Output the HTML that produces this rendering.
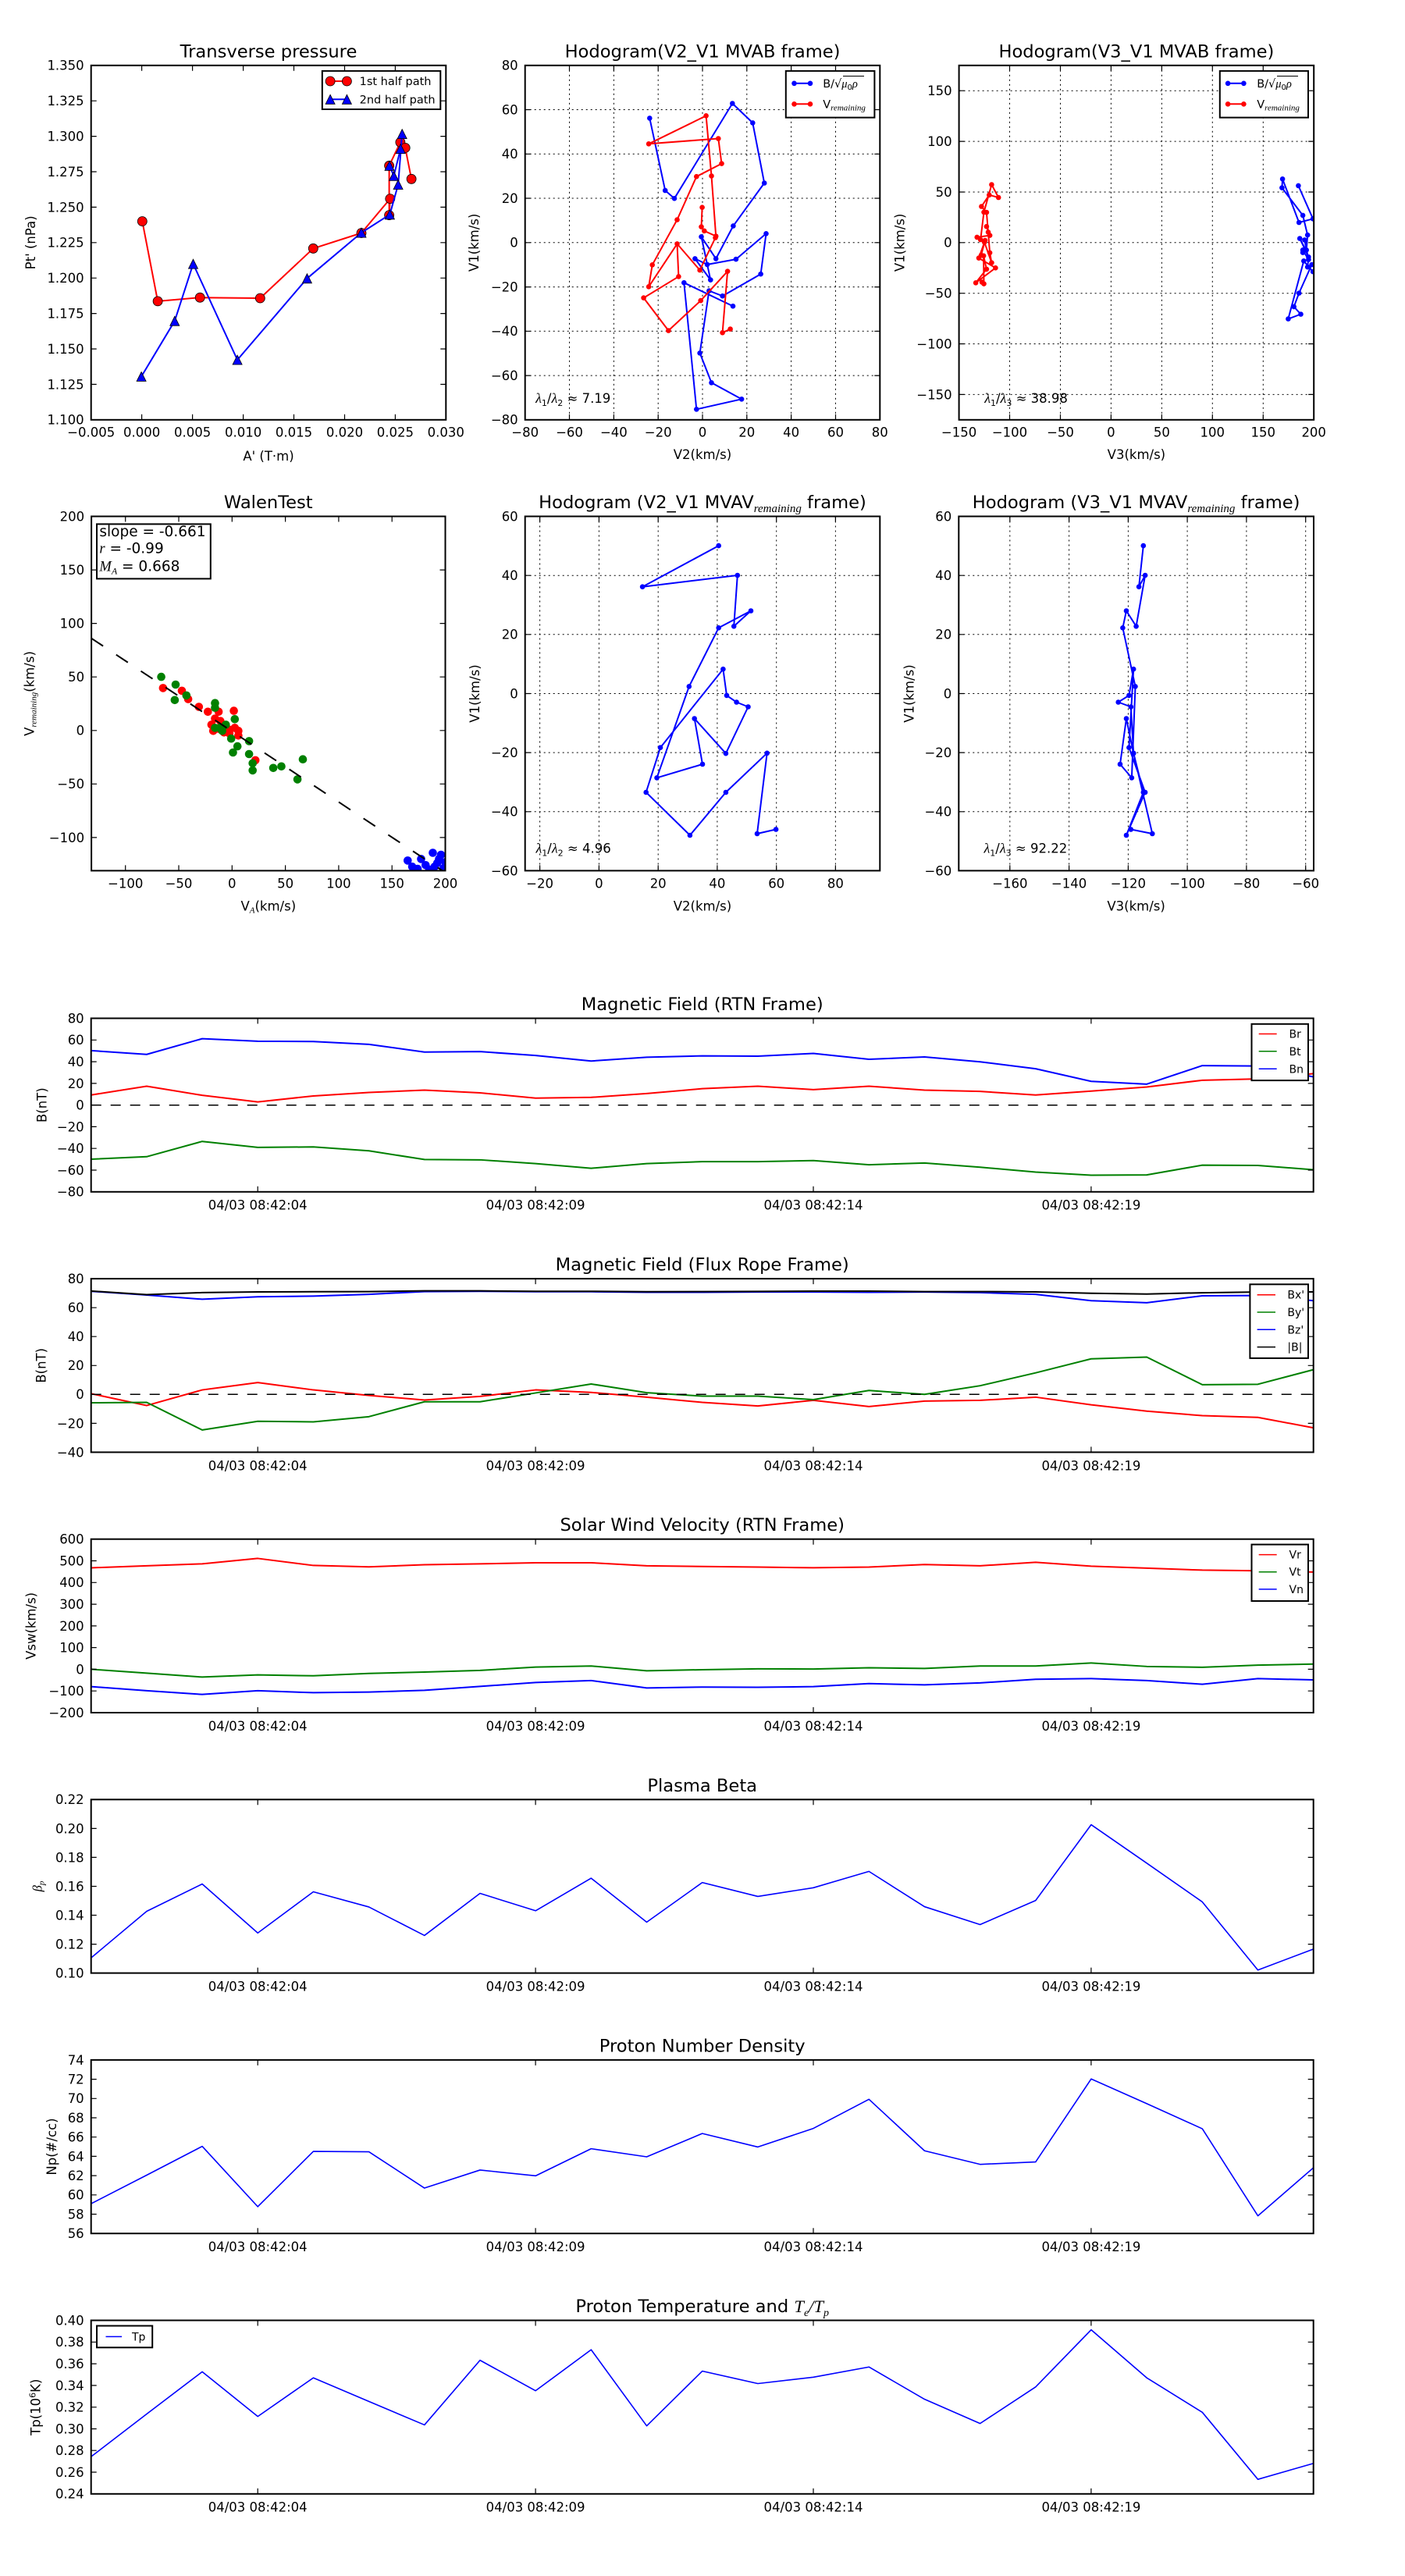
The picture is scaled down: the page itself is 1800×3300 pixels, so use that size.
<!DOCTYPE html>
<html><head><meta charset="utf-8"><style>
html,body{margin:0;padding:0;background:#fff}
svg{display:block}
text{font-family:"DejaVu Sans","Liberation Sans",sans-serif;fill:#000}
.tl{font-size:16.5px}
.e{text-anchor:end}
.m{text-anchor:middle}
.ti{font-size:22.6px;text-anchor:middle}
.lg{font-size:14.5px}
.ls{font-size:14px}
.an{font-size:18.5px}
.fr{fill:none;stroke:#000;stroke-width:2}
.tk{fill:none;stroke:#000;stroke-width:1.2}
.gd{fill:none;stroke:#000;stroke-width:1;stroke-dasharray:2,4}
.ln{fill:none;stroke-width:2;stroke-linejoin:round;vector-effect:non-scaling-stroke}
.l15{fill:none;stroke-width:1.6;stroke-linejoin:round;vector-effect:non-scaling-stroke}
.pl{fill:none;stroke-width:2;stroke-linejoin:round}
.mi{font-family:"Liberation Serif","DejaVu Serif",serif;font-style:italic}
</style></head><body>
<svg width="1800" height="3300" viewBox="0 0 1800 3300" xmlns="http://www.w3.org/2000/svg">
<rect width="1800" height="3300" fill="#fff"/>
<defs>
<clipPath id="cH1"><rect x="672.7" y="83.8" width="454.6" height="454"/></clipPath>
<clipPath id="cH2"><rect x="1228.6" y="83.8" width="454.6" height="454"/></clipPath>
<clipPath id="cW"><rect x="117.1" y="661.5" width="453.4" height="453.9"/></clipPath>
<clipPath id="cTS"><rect x="116.7" y="0" width="1566" height="3300"/></clipPath>
</defs>

<!-- ================= Transverse pressure ================= -->
<text class="ti" x="344" y="73.3">Transverse pressure</text>
<polyline class="pl" stroke="#f00" points="182.3,283.5 202.1,385.9 256.2,381.2 333.3,382 401.3,318.3 463,298.5 499.8,254.6 498.6,275.6 498.6,212.3 512.9,182.3 519.2,189.4 527.1,229.3"/>
<g fill="#f00" stroke="#000" stroke-width="0.8">
<circle cx="182.3" cy="283.5" r="6"/><circle cx="202.1" cy="385.9" r="6"/><circle cx="256.2" cy="381.2" r="6"/><circle cx="333.3" cy="382" r="6"/><circle cx="401.3" cy="318.3" r="6"/><circle cx="463" cy="298.5" r="6"/><circle cx="498.6" cy="275.6" r="6"/><circle cx="499.8" cy="254.6" r="6"/><circle cx="498.6" cy="212.3" r="6"/><circle cx="512.9" cy="182.3" r="6"/><circle cx="519.2" cy="189.4" r="6"/><circle cx="527.1" cy="229.3" r="6"/>
</g>
<polyline class="pl" stroke="#00f" points="181.1,482.4 223.8,411.2 247.5,338.1 304.1,461 393.4,356.7 463,298.1 499.4,274.8 510.1,236.5 515.2,171.6 513.2,190.6 504.5,225.4 499,212.3"/>
<g fill="#00f" stroke="#000" stroke-width="0.8">
<polygon points="181.1,476.4 175.1,488.4 187.1,488.4"/><polygon points="223.8,405.2 217.8,417.2 229.8,417.2"/><polygon points="247.5,332.1 241.5,344.1 253.5,344.1"/><polygon points="304.1,455 298.1,467 310.1,467"/><polygon points="393.4,350.7 387.4,362.7 399.4,362.7"/><polygon points="463,292.1 457,304.1 469,304.1"/><polygon points="499.4,268.8 493.4,280.8 505.4,280.8"/><polygon points="510.1,230.5 504.1,242.5 516.1,242.5"/><polygon points="504.5,219.4 498.5,231.4 510.5,231.4"/><polygon points="499,206.3 493,218.3 505,218.3"/><polygon points="513.2,184.6 507.2,196.6 519.2,196.6"/><polygon points="515.2,165.6 509.2,177.6 521.2,177.6"/>
</g>
<rect class="fr" x="116.7" y="83.8" width="454.6" height="454"/>
<path class="tk" d="M181.6 537.8v-7M246.6 537.8v-7M311.6 537.8v-7M376.5 537.8v-7M441.5 537.8v-7M506.4 537.8v-7M181.6 83.8v7M246.6 83.8v7M311.6 83.8v7M376.5 83.8v7M441.5 83.8v7M506.4 83.8v7M116.7 492.4h7M116.7 447h7M116.7 401.6h7M116.7 356.2h7M116.7 310.8h7M116.7 265.4h7M116.7 220h7M116.7 174.6h7M116.7 129.2h7M571.3 492.4h-7M571.3 447h-7M571.3 401.6h-7M571.3 356.2h-7M571.3 310.8h-7M571.3 265.4h-7M571.3 220h-7M571.3 174.6h-7M571.3 129.2h-7"/>
<g class="tl m">
<text x="116.7" y="559.7">&#8722;0.005</text><text x="181.6" y="559.7">0.000</text><text x="246.6" y="559.7">0.005</text><text x="311.6" y="559.7">0.010</text><text x="376.5" y="559.7">0.015</text><text x="441.5" y="559.7">0.020</text><text x="506.4" y="559.7">0.025</text><text x="571.3" y="559.7">0.030</text>
</g>
<g class="tl e">
<text x="107.7" y="543.7">1.100</text><text x="107.7" y="498.3">1.125</text><text x="107.7" y="452.9">1.150</text><text x="107.7" y="407.5">1.175</text><text x="107.7" y="362.1">1.200</text><text x="107.7" y="316.7">1.225</text><text x="107.7" y="271.3">1.250</text><text x="107.7" y="225.9">1.275</text><text x="107.7" y="180.5">1.300</text><text x="107.7" y="135.1">1.325</text><text x="107.7" y="89.7">1.350</text>
</g>
<text class="tl m" x="344" y="590">A' (T·m)</text>
<text class="tl m" transform="translate(45,310.8) rotate(-90)">Pt' (nPa)</text>
<rect x="412.8" y="90.9" width="151.5" height="49.1" fill="#fff" stroke="#000" stroke-width="2"/>
<line x1="423.1" y1="104" x2="444.4" y2="104" stroke="#f00" stroke-width="2"/>
<circle cx="423.1" cy="104" r="6" fill="#f00" stroke="#000" stroke-width="0.8"/><circle cx="444.4" cy="104" r="6" fill="#f00" stroke="#000" stroke-width="0.8"/>
<text class="lg" x="460.6" y="109.2">1st half path</text>
<line x1="423.1" y1="127.3" x2="444.4" y2="127.3" stroke="#00f" stroke-width="2"/>
<polygon points="423.1,121.3 417.1,133.3 429.1,133.3" fill="#00f" stroke="#000" stroke-width="0.8"/><polygon points="444.4,121.3 438.4,133.3 450.4,133.3" fill="#00f" stroke="#000" stroke-width="0.8"/>
<text class="lg" x="460.6" y="132.5">2nd half path</text>

<!-- ================= Hodogram V2_V1 MVAB ================= -->
<text class="ti" x="900" y="73.3">Hodogram(V2_V1 MVAB frame)</text>
<path class="gd" d="M729.5 83.8V537.8M786.4 83.8V537.8M843.2 83.8V537.8M900 83.8V537.8M956.8 83.8V537.8M1013.6 83.8V537.8M1070.5 83.8V537.8M672.7 481.1H1127.3M672.7 424.3H1127.3M672.7 367.6H1127.3M672.7 310.8H1127.3M672.7 254H1127.3M672.7 197.3H1127.3M672.7 140.5H1127.3"/>
<g clip-path="url(#cH1)">
<polyline class="pl" stroke="#00f" points="832.3,151.4 852.2,244 864,254.2 938.3,132.5 964.3,157.4 979.2,234.5 939.4,289.4 917.2,331.4 898.5,303.3 910.3,358.6 890.4,331.4 906.1,338.9 942.9,332.1 981.5,299.3 974.6,351.1 925.6,379.2 908.4,372.5 896.6,452.3 911.5,490.3 950.1,511.3 892.3,524.3 876.3,362.2 939,392.2"/>
<g fill="#00f">
<circle cx="832.3" cy="151.4" r="3.3"/><circle cx="852.2" cy="244" r="3.3"/><circle cx="864" cy="254.2" r="3.3"/><circle cx="938.3" cy="132.5" r="3.3"/><circle cx="964.3" cy="157.4" r="3.3"/><circle cx="979.2" cy="234.5" r="3.3"/><circle cx="939.4" cy="289.4" r="3.3"/><circle cx="917.2" cy="331.4" r="3.3"/><circle cx="898.5" cy="303.3" r="3.3"/><circle cx="910.3" cy="358.6" r="3.3"/><circle cx="890.4" cy="331.4" r="3.3"/><circle cx="906.1" cy="338.9" r="3.3"/><circle cx="942.9" cy="332.1" r="3.3"/><circle cx="981.5" cy="299.3" r="3.3"/><circle cx="974.6" cy="351.1" r="3.3"/><circle cx="925.6" cy="379.2" r="3.3"/><circle cx="908.4" cy="372.5" r="3.3"/><circle cx="896.6" cy="452.3" r="3.3"/><circle cx="911.5" cy="490.3" r="3.3"/><circle cx="950.1" cy="511.3" r="3.3"/><circle cx="892.3" cy="524.3" r="3.3"/><circle cx="876.3" cy="362.2" r="3.3"/><circle cx="939" cy="392.2" r="3.3"/>
</g>
<polyline class="pl" stroke="#f00" points="899.6,265.7 898.5,290.6 902.3,295.8 917.2,302.5 911.5,225.4 904.6,148.3 831.1,184.3 920.3,177.5 924.5,209.6 892.3,226.2 867.5,281.5 835.7,339.3 831.1,367.3 867.5,312.4 869.4,354.3 824.6,381.6 856.4,423.5 897.7,385.1 932.1,347.6 925.6,426.2 935.6,421.5"/>
<polyline class="pl" stroke="#f00" points="867.5,312.4 896.6,346 916.5,304.5"/>
<g fill="#f00">
<circle cx="899.6" cy="265.7" r="3.3"/><circle cx="898.5" cy="290.6" r="3.3"/><circle cx="902.3" cy="295.8" r="3.3"/><circle cx="917.2" cy="302.5" r="3.3"/><circle cx="911.5" cy="225.4" r="3.3"/><circle cx="904.6" cy="148.3" r="3.3"/><circle cx="831.1" cy="184.3" r="3.3"/><circle cx="920.3" cy="177.5" r="3.3"/><circle cx="924.5" cy="209.6" r="3.3"/><circle cx="892.3" cy="226.2" r="3.3"/><circle cx="867.5" cy="281.5" r="3.3"/><circle cx="835.7" cy="339.3" r="3.3"/><circle cx="831.1" cy="367.3" r="3.3"/><circle cx="867.5" cy="312.4" r="3.3"/><circle cx="869.4" cy="354.3" r="3.3"/><circle cx="824.6" cy="381.6" r="3.3"/><circle cx="856.4" cy="423.5" r="3.3"/><circle cx="897.7" cy="385.1" r="3.3"/><circle cx="932.1" cy="347.6" r="3.3"/><circle cx="925.6" cy="426.2" r="3.3"/><circle cx="935.6" cy="421.5" r="3.3"/><circle cx="896.6" cy="346" r="3.3"/><circle cx="916.5" cy="304.5" r="3.3"/>
</g>
</g>
<rect class="fr" x="672.7" y="83.8" width="454.6" height="454"/>
<path class="tk" d="M729.5 537.8v-7M786.4 537.8v-7M843.2 537.8v-7M900 537.8v-7M956.8 537.8v-7M1013.6 537.8v-7M1070.5 537.8v-7M729.5 83.8v7M786.4 83.8v7M843.2 83.8v7M900 83.8v7M956.8 83.8v7M1013.6 83.8v7M1070.5 83.8v7M672.7 481.1h7M672.7 424.3h7M672.7 367.6h7M672.7 310.8h7M672.7 254h7M672.7 197.3h7M672.7 140.5h7M1127.3 481.1h-7M1127.3 424.3h-7M1127.3 367.6h-7M1127.3 310.8h-7M1127.3 254h-7M1127.3 197.3h-7M1127.3 140.5h-7"/>
<g class="tl m">
<text x="672.7" y="559.7">&#8722;80</text><text x="729.5" y="559.7">&#8722;60</text><text x="786.4" y="559.7">&#8722;40</text><text x="843.2" y="559.7">&#8722;20</text><text x="900" y="559.7">0</text><text x="956.8" y="559.7">20</text><text x="1013.6" y="559.7">40</text><text x="1070.5" y="559.7">60</text><text x="1127.3" y="559.7">80</text>
</g>
<g class="tl e">
<text x="663.7" y="89.7">80</text><text x="663.7" y="146.4">60</text><text x="663.7" y="203.2">40</text><text x="663.7" y="259.9">20</text><text x="663.7" y="316.7">0</text><text x="663.7" y="373.5">&#8722;20</text><text x="663.7" y="430.2">&#8722;40</text><text x="663.7" y="487">&#8722;60</text><text x="663.7" y="543.7">&#8722;80</text>
</g>
<text class="tl m" x="900" y="588">V2(km/s)</text>
<text class="tl m" transform="translate(613.1,310.8) rotate(-90)">V1(km/s)</text>
<text class="tl" x="686.1" y="516"><tspan class="mi" font-size="18">λ</tspan><tspan font-size="11" dy="4">1</tspan><tspan dy="-4">/</tspan><tspan class="mi" font-size="18">λ</tspan><tspan font-size="11" dy="4">2</tspan><tspan dy="-4"> ≈ 7.19</tspan></text>
<rect x="1006.8" y="90.9" width="113.6" height="59.7" fill="#fff" stroke="#000" stroke-width="2"/>
<line x1="1015" y1="106.8" x2="1040" y2="106.8" stroke="#00f" stroke-width="2"/>
<circle cx="1017.5" cy="106.8" r="3.3" fill="#00f"/><circle cx="1038" cy="106.8" r="3.3" fill="#00f"/>
<text class="lg" x="1054.2" y="112">B/√<tspan class="mi">μ</tspan><tspan font-size="10" dy="3">0</tspan><tspan class="mi" dy="-3">ρ</tspan></text>
<line x1="1080" y1="97.5" x2="1107" y2="97.5" stroke="#000" stroke-width="1"/>
<line x1="1015" y1="133.3" x2="1040" y2="133.3" stroke="#f00" stroke-width="2"/>
<circle cx="1017.5" cy="133.3" r="3.3" fill="#f00"/><circle cx="1038" cy="133.3" r="3.3" fill="#f00"/>
<text class="lg" x="1054.2" y="138.5">V<tspan class="mi" font-size="11" dy="3">remaining</tspan></text>

<!-- ================= Hodogram V3_V1 MVAB ================= -->
<text class="ti" x="1455.9" y="73.3">Hodogram(V3_V1 MVAB frame)</text>
<path class="gd" d="M1293.5 83.8V537.8M1358.5 83.8V537.8M1423.4 83.8V537.8M1488.4 83.8V537.8M1553.3 83.8V537.8M1618.3 83.8V537.8M1228.6 116.2H1683.2M1228.6 181.1H1683.2M1228.6 246H1683.2M1228.6 310.8H1683.2M1228.6 375.7H1683.2M1228.6 440.5H1683.2M1228.6 505.4H1683.2"/>
<g clip-path="url(#cH2)">
<polyline class="pl" stroke="#00f" points="1663.4,237.9 1682.1,280.3 1664.2,285 1643.1,229.3 1642.4,240.6 1669.1,275.9 1675.2,301.1 1673.7,320.3 1671.4,307.4 1676.4,332.6 1669.1,320.3 1669.1,323.6 1673,320.5 1665.2,305.5 1676.4,329.2 1675.2,342.1 1680.6,339 1664.2,375.5 1657.7,392.9 1666.5,402.5 1650.4,408.5 1670.3,334.3 1682.1,348"/>
<g fill="#00f">
<circle cx="1663.4" cy="237.9" r="3.3"/><circle cx="1682.1" cy="280.3" r="3.3"/><circle cx="1664.2" cy="285" r="3.3"/><circle cx="1643.1" cy="229.3" r="3.3"/><circle cx="1642.4" cy="240.6" r="3.3"/><circle cx="1669.1" cy="275.9" r="3.3"/><circle cx="1675.2" cy="301.1" r="3.3"/><circle cx="1673.7" cy="320.3" r="3.3"/><circle cx="1671.4" cy="307.4" r="3.3"/><circle cx="1676.4" cy="332.6" r="3.3"/><circle cx="1669.1" cy="320.3" r="3.3"/><circle cx="1669.1" cy="323.6" r="3.3"/><circle cx="1673" cy="320.5" r="3.3"/><circle cx="1665.2" cy="305.5" r="3.3"/><circle cx="1676.4" cy="329.2" r="3.3"/><circle cx="1675.2" cy="342.1" r="3.3"/><circle cx="1680.6" cy="339" r="3.3"/><circle cx="1664.2" cy="375.5" r="3.3"/><circle cx="1657.7" cy="392.9" r="3.3"/><circle cx="1666.5" cy="402.5" r="3.3"/><circle cx="1650.4" cy="408.5" r="3.3"/><circle cx="1670.3" cy="334.3" r="3.3"/><circle cx="1682.1" cy="348" r="3.3"/>
</g>
<polyline class="pl" stroke="#f00" points="1263.9,290.2 1268.1,301.6 1251.7,303.9 1256.2,307 1260.5,271.8 1270.4,236.5 1279.2,253 1267.3,249.8 1257.4,264.5 1263.9,272.1 1266,297.4 1268.1,323.8 1270.4,336.6 1261.2,310.3 1254,330.6 1275.4,343.2 1250.1,362.3 1263.9,344.8 1260.1,327.7 1260.5,363.6 1258,361.4"/>
<polyline class="pl" stroke="#f00" points="1261.2,310.3 1257,326.9 1262,308"/>
<g fill="#f00">
<circle cx="1263.9" cy="290.2" r="3.3"/><circle cx="1268.1" cy="301.6" r="3.3"/><circle cx="1251.7" cy="303.9" r="3.3"/><circle cx="1256.2" cy="307" r="3.3"/><circle cx="1260.5" cy="271.8" r="3.3"/><circle cx="1270.4" cy="236.5" r="3.3"/><circle cx="1279.2" cy="253" r="3.3"/><circle cx="1267.3" cy="249.8" r="3.3"/><circle cx="1257.4" cy="264.5" r="3.3"/><circle cx="1263.9" cy="272.1" r="3.3"/><circle cx="1266" cy="297.4" r="3.3"/><circle cx="1268.1" cy="323.8" r="3.3"/><circle cx="1270.4" cy="336.6" r="3.3"/><circle cx="1261.2" cy="310.3" r="3.3"/><circle cx="1254" cy="330.6" r="3.3"/><circle cx="1275.4" cy="343.2" r="3.3"/><circle cx="1250.1" cy="362.3" r="3.3"/><circle cx="1263.9" cy="344.8" r="3.3"/><circle cx="1260.1" cy="327.7" r="3.3"/><circle cx="1260.5" cy="363.6" r="3.3"/><circle cx="1258" cy="361.4" r="3.3"/><circle cx="1257" cy="326.9" r="3.3"/><circle cx="1262" cy="308" r="3.3"/>
</g>
</g>
<rect class="fr" x="1228.6" y="83.8" width="454.6" height="454"/>
<path class="tk" d="M1293.5 537.8v-7M1358.5 537.8v-7M1423.4 537.8v-7M1488.4 537.8v-7M1553.3 537.8v-7M1618.3 537.8v-7M1293.5 83.8v7M1358.5 83.8v7M1423.4 83.8v7M1488.4 83.8v7M1553.3 83.8v7M1618.3 83.8v7M1228.6 116.2h7M1228.6 181.1h7M1228.6 246h7M1228.6 310.8h7M1228.6 375.7h7M1228.6 440.5h7M1228.6 505.4h7M1683.2 116.2h-7M1683.2 181.1h-7M1683.2 246h-7M1683.2 310.8h-7M1683.2 375.7h-7M1683.2 440.5h-7M1683.2 505.4h-7"/>
<g class="tl m">
<text x="1228.6" y="559.7">&#8722;150</text><text x="1293.5" y="559.7">&#8722;100</text><text x="1358.5" y="559.7">&#8722;50</text><text x="1423.4" y="559.7">0</text><text x="1488.4" y="559.7">50</text><text x="1553.3" y="559.7">100</text><text x="1618.3" y="559.7">150</text><text x="1683.2" y="559.7">200</text>
</g>
<g class="tl e">
<text x="1219.6" y="122.1">150</text><text x="1219.6" y="187">100</text><text x="1219.6" y="251.9">50</text><text x="1219.6" y="316.7">0</text><text x="1219.6" y="381.6">&#8722;50</text><text x="1219.6" y="446.4">&#8722;100</text><text x="1219.6" y="511.3">&#8722;150</text>
</g>
<text class="tl m" x="1455.9" y="588">V3(km/s)</text>
<text class="tl m" transform="translate(1158.3,310.8) rotate(-90)">V1(km/s)</text>
<text class="tl" x="1261.2" y="516"><tspan class="mi" font-size="18">λ</tspan><tspan font-size="11" dy="4">1</tspan><tspan dy="-4">/</tspan><tspan class="mi" font-size="18">λ</tspan><tspan font-size="11" dy="4">3</tspan><tspan dy="-4"> ≈ 38.98</tspan></text>
<rect x="1562.8" y="90.9" width="113.2" height="59.7" fill="#fff" stroke="#000" stroke-width="2"/>
<line x1="1570.4" y1="106.8" x2="1596" y2="106.8" stroke="#00f" stroke-width="2"/>
<circle cx="1573.1" cy="106.8" r="3.3" fill="#00f"/><circle cx="1593.4" cy="106.8" r="3.3" fill="#00f"/>
<text class="lg" x="1610.2" y="112">B/√<tspan class="mi">μ</tspan><tspan font-size="10" dy="3">0</tspan><tspan class="mi" dy="-3">ρ</tspan></text>
<line x1="1636" y1="97.5" x2="1663" y2="97.5" stroke="#000" stroke-width="1"/>
<line x1="1570.4" y1="133.3" x2="1596" y2="133.3" stroke="#f00" stroke-width="2"/>
<circle cx="1573.1" cy="133.3" r="3.3" fill="#f00"/><circle cx="1593.4" cy="133.3" r="3.3" fill="#f00"/>
<text class="lg" x="1610.2" y="138.5">V<tspan class="mi" font-size="11" dy="3">remaining</tspan></text>

<!-- ================= Walen test ================= -->
<text class="ti" x="343.8" y="651">WalenTest</text>
<g clip-path="url(#cW)">
<g fill="#f00">
<circle cx="208.9" cy="881.4" r="5.3"/><circle cx="233" cy="884.9" r="5.3"/><circle cx="241.1" cy="895.6" r="5.3"/><circle cx="254.8" cy="905.5" r="5.3"/><circle cx="266.3" cy="911.8" r="5.3"/><circle cx="280.1" cy="911.8" r="5.3"/><circle cx="299.6" cy="910.6" r="5.3"/><circle cx="270.9" cy="928.4" r="5.3"/><circle cx="282.4" cy="923.7" r="5.3"/><circle cx="280.1" cy="933.6" r="5.3"/><circle cx="305.4" cy="936.3" r="5.3"/><circle cx="293.9" cy="939.5" r="5.3"/><circle cx="327.2" cy="973.9" r="5.3"/><circle cx="273.2" cy="936.3" r="5.3"/><circle cx="287" cy="938.3" r="5.3"/><circle cx="300.8" cy="932.4" r="5.3"/><circle cx="275.5" cy="920.5" r="5.3"/><circle cx="292.7" cy="934.4" r="5.3"/><circle cx="305.4" cy="942.3" r="5.3"/>
</g>
<g fill="#008000">
<circle cx="206.6" cy="867.1" r="5.3"/><circle cx="225" cy="877" r="5.3"/><circle cx="223.9" cy="896.8" r="5.3"/><circle cx="238.8" cy="890.9" r="5.3"/><circle cx="275.5" cy="900.7" r="5.3"/><circle cx="275.5" cy="906.7" r="5.3"/><circle cx="300.8" cy="921.3" r="5.3"/><circle cx="281.3" cy="932.4" r="5.3"/><circle cx="296.2" cy="946.2" r="5.3"/><circle cx="304.2" cy="956.1" r="5.3"/><circle cx="319.1" cy="949.4" r="5.3"/><circle cx="298.5" cy="964" r="5.3"/><circle cx="319.1" cy="966" r="5.3"/><circle cx="323.7" cy="977.8" r="5.3"/><circle cx="323.7" cy="986.9" r="5.3"/><circle cx="350.1" cy="983.8" r="5.3"/><circle cx="360.5" cy="981.8" r="5.3"/><circle cx="381.1" cy="998.4" r="5.3"/><circle cx="388" cy="972.7" r="5.3"/><circle cx="275.5" cy="932.4" r="5.3"/><circle cx="289.3" cy="928.4" r="5.3"/><circle cx="284.7" cy="936.3" r="5.3"/>
</g>
<g fill="#00f">
<circle cx="522.3" cy="1102.4" r="5.3"/><circle cx="539.5" cy="1100.4" r="5.3"/><circle cx="554.5" cy="1092.5" r="5.3"/><circle cx="562.5" cy="1100.4" r="5.3"/><circle cx="570.5" cy="1104.4" r="5.3"/><circle cx="556.8" cy="1110.3" r="5.3"/><circle cx="545.3" cy="1108.3" r="5.3"/><circle cx="568.2" cy="1112.3" r="5.3"/><circle cx="528.1" cy="1110.3" r="5.3"/><circle cx="560.2" cy="1105.6" r="5.3"/><circle cx="550" cy="1114" r="5.3"/><circle cx="535" cy="1113" r="5.3"/><circle cx="565" cy="1095" r="5.3"/>
</g>
<line x1="117.1" y1="817.7" x2="566.8" y2="1115.4" stroke="#000" stroke-width="2" stroke-dasharray="18,20"/>
</g>
<rect class="fr" x="117.1" y="661.5" width="453.4" height="453.9"/>
<path class="tk" d="M160.7 1115.4v-7M229 1115.4v-7M297.3 1115.4v-7M365.6 1115.4v-7M433.9 1115.4v-7M502.2 1115.4v-7M160.7 661.5v7M229 661.5v7M297.3 661.5v7M365.6 661.5v7M433.9 661.5v7M502.2 661.5v7M117.1 1072.9h7M117.1 1004.3h7M117.1 935.8h7M117.1 867.2h7M117.1 798.6h7M117.1 730.1h7M570.5 1072.9h-7M570.5 1004.3h-7M570.5 935.8h-7M570.5 867.2h-7M570.5 798.6h-7M570.5 730.1h-7"/>
<g class="tl m">
<text x="160.7" y="1137.3">&#8722;100</text><text x="229" y="1137.3">&#8722;50</text><text x="297.3" y="1137.3">0</text><text x="365.6" y="1137.3">50</text><text x="433.9" y="1137.3">100</text><text x="502.2" y="1137.3">150</text><text x="570.5" y="1137.3">200</text>
</g>
<g class="tl e">
<text x="108.1" y="667.4">200</text><text x="108.1" y="736">150</text><text x="108.1" y="804.5">100</text><text x="108.1" y="873.1">50</text><text x="108.1" y="941.7">0</text><text x="108.1" y="1010.2">&#8722;50</text><text x="108.1" y="1078.8">&#8722;100</text>
</g>
<text class="tl m" x="343.8" y="1166.5">V<tspan class="mi" font-size="11" dy="3">A</tspan><tspan dy="-3">(km/s)</tspan></text>
<text class="tl m" transform="translate(43.3,888.5) rotate(-90)">V<tspan class="mi" font-size="11" dy="3">remaining</tspan><tspan dy="-3">(km/s)</tspan></text>
<rect x="124" y="671.4" width="145.8" height="70" fill="#fff" stroke="#000" stroke-width="2"/>
<text class="an" x="127.4" y="687">slope = -0.661</text>
<text class="an" x="127.4" y="708.7"><tspan class="mi">r</tspan> = -0.99</text>
<text class="an" x="127.4" y="731.3"><tspan class="mi">M</tspan><tspan class="mi" font-size="12" dy="4">A</tspan><tspan dy="-4"> = 0.668</tspan></text>

<!-- ================= Hodogram V2_V1 MVAV ================= -->
<text class="ti" x="900" y="651">Hodogram (V2_V1 MVAV<tspan class="mi" font-size="15" dy="5">remaining</tspan><tspan dy="-5"> frame)</tspan></text>
<path class="gd" d="M691.6 661.5V1115.4M767.4 661.5V1115.4M843.2 661.5V1115.4M918.9 661.5V1115.4M994.7 661.5V1115.4M1070.4 661.5V1115.4M672.7 1039.8H1127.3M672.7 964.1H1127.3M672.7 888.5H1127.3M672.7 812.8H1127.3M672.7 737.2H1127.3"/>
<polyline class="pl" stroke="#00f" points="920.7,699.1 823.1,751.7 944.8,737 940.2,802.3 962,782.5 920.7,804.3 882.8,879.4 841.5,996.4 900,979 889.7,920.5 929.9,965.2 958.5,905.5 943.6,899.5 931,890.9 926.4,857.2 846,957.7 827.7,1015 883.9,1070 929.9,1015 982.7,964.8 970,1068 994.1,1062.5"/>
<g fill="#00f">
<circle cx="920.7" cy="699.1" r="3.3"/><circle cx="823.1" cy="751.7" r="3.3"/><circle cx="944.8" cy="737" r="3.3"/><circle cx="940.2" cy="802.3" r="3.3"/><circle cx="962" cy="782.5" r="3.3"/><circle cx="920.7" cy="804.3" r="3.3"/><circle cx="882.8" cy="879.4" r="3.3"/><circle cx="841.5" cy="996.4" r="3.3"/><circle cx="900" cy="979" r="3.3"/><circle cx="889.7" cy="920.5" r="3.3"/><circle cx="929.9" cy="965.2" r="3.3"/><circle cx="958.5" cy="905.5" r="3.3"/><circle cx="943.6" cy="899.5" r="3.3"/><circle cx="931" cy="890.9" r="3.3"/><circle cx="926.4" cy="857.2" r="3.3"/><circle cx="846" cy="957.7" r="3.3"/><circle cx="827.7" cy="1015" r="3.3"/><circle cx="883.9" cy="1070" r="3.3"/><circle cx="929.9" cy="1015" r="3.3"/><circle cx="982.7" cy="964.8" r="3.3"/><circle cx="970" cy="1068" r="3.3"/><circle cx="994.1" cy="1062.5" r="3.3"/>
</g>
<rect class="fr" x="672.7" y="661.5" width="454.6" height="453.9"/>
<path class="tk" d="M691.6 1115.4v-7M767.4 1115.4v-7M843.2 1115.4v-7M918.9 1115.4v-7M994.7 1115.4v-7M1070.4 1115.4v-7M691.6 661.5v7M767.4 661.5v7M843.2 661.5v7M918.9 661.5v7M994.7 661.5v7M1070.4 661.5v7M672.7 1039.8h7M672.7 964.1h7M672.7 888.5h7M672.7 812.8h7M672.7 737.2h7M1127.3 1039.8h-7M1127.3 964.1h-7M1127.3 888.5h-7M1127.3 812.8h-7M1127.3 737.2h-7"/>
<g class="tl m">
<text x="691.6" y="1137.3">&#8722;20</text><text x="767.4" y="1137.3">0</text><text x="843.2" y="1137.3">20</text><text x="918.9" y="1137.3">40</text><text x="994.7" y="1137.3">60</text><text x="1070.4" y="1137.3">80</text>
</g>
<g class="tl e">
<text x="663.7" y="667.4">60</text><text x="663.7" y="743.1">40</text><text x="663.7" y="818.7">20</text><text x="663.7" y="894.4">0</text><text x="663.7" y="970">&#8722;20</text><text x="663.7" y="1045.7">&#8722;40</text><text x="663.7" y="1121.3">&#8722;60</text>
</g>
<text class="tl m" x="900" y="1166.5">V2(km/s)</text>
<text class="tl m" transform="translate(613.8,888.5) rotate(-90)">V1(km/s)</text>
<text class="tl" x="686.5" y="1092.5"><tspan class="mi" font-size="18">λ</tspan><tspan font-size="11" dy="4">1</tspan><tspan dy="-4">/</tspan><tspan class="mi" font-size="18">λ</tspan><tspan font-size="11" dy="4">2</tspan><tspan dy="-4"> ≈ 4.96</tspan></text>

<!-- ================= Hodogram V3_V1 MVAV ================= -->
<text class="ti" x="1455.6" y="651">Hodogram (V3_V1 MVAV<tspan class="mi" font-size="15" dy="5">remaining</tspan><tspan dy="-5"> frame)</tspan></text>
<path class="gd" d="M1293.8 661.5V1115.4M1369.6 661.5V1115.4M1445.4 661.5V1115.4M1521.1 661.5V1115.4M1596.9 661.5V1115.4M1672.7 661.5V1115.4M1228.3 1039.8H1683M1228.3 964.1H1683M1228.3 888.5H1683M1228.3 812.8H1683M1228.3 737.2H1683"/>
<polyline class="pl" stroke="#00f" points="1464.8,699.1 1459.1,751.7 1467.1,737 1455.6,802.3 1443,782.5 1438.4,804.3 1454.5,879.4 1449.9,996.4 1435,979 1443,920.5 1452.2,965.2 1448.8,905.5 1432.7,899.5 1446.4,890.9 1452.2,857.2 1446.4,957.7 1467.1,1015 1443,1070 1464.8,1015 1452.2,964.8 1476.3,1068 1448.8,1062.5"/>
<g fill="#00f">
<circle cx="1464.8" cy="699.1" r="3.3"/><circle cx="1459.1" cy="751.7" r="3.3"/><circle cx="1467.1" cy="737" r="3.3"/><circle cx="1455.6" cy="802.3" r="3.3"/><circle cx="1443" cy="782.5" r="3.3"/><circle cx="1438.4" cy="804.3" r="3.3"/><circle cx="1454.5" cy="879.4" r="3.3"/><circle cx="1449.9" cy="996.4" r="3.3"/><circle cx="1435" cy="979" r="3.3"/><circle cx="1443" cy="920.5" r="3.3"/><circle cx="1452.2" cy="965.2" r="3.3"/><circle cx="1448.8" cy="905.5" r="3.3"/><circle cx="1432.7" cy="899.5" r="3.3"/><circle cx="1446.4" cy="890.9" r="3.3"/><circle cx="1452.2" cy="857.2" r="3.3"/><circle cx="1446.4" cy="957.7" r="3.3"/><circle cx="1467.1" cy="1015" r="3.3"/><circle cx="1443" cy="1070" r="3.3"/><circle cx="1464.8" cy="1015" r="3.3"/><circle cx="1452.2" cy="964.8" r="3.3"/><circle cx="1476.3" cy="1068" r="3.3"/><circle cx="1448.8" cy="1062.5" r="3.3"/>
</g>
<rect class="fr" x="1228.3" y="661.5" width="454.7" height="453.9"/>
<path class="tk" d="M1293.8 1115.4v-7M1369.6 1115.4v-7M1445.4 1115.4v-7M1521.1 1115.4v-7M1596.9 1115.4v-7M1672.7 1115.4v-7M1293.8 661.5v7M1369.6 661.5v7M1445.4 661.5v7M1521.1 661.5v7M1596.9 661.5v7M1672.7 661.5v7M1228.3 1039.8h7M1228.3 964.1h7M1228.3 888.5h7M1228.3 812.8h7M1228.3 737.2h7M1683 1039.8h-7M1683 964.1h-7M1683 888.5h-7M1683 812.8h-7M1683 737.2h-7"/>
<g class="tl m">
<text x="1293.8" y="1137.3">&#8722;160</text><text x="1369.6" y="1137.3">&#8722;140</text><text x="1445.4" y="1137.3">&#8722;120</text><text x="1521.1" y="1137.3">&#8722;100</text><text x="1596.9" y="1137.3">&#8722;80</text><text x="1672.7" y="1137.3">&#8722;60</text>
</g>
<g class="tl e">
<text x="1219.3" y="667.4">60</text><text x="1219.3" y="743.1">40</text><text x="1219.3" y="818.7">20</text><text x="1219.3" y="894.4">0</text><text x="1219.3" y="970">&#8722;20</text><text x="1219.3" y="1045.7">&#8722;40</text><text x="1219.3" y="1121.3">&#8722;60</text>
</g>
<text class="tl m" x="1455.6" y="1166.5">V3(km/s)</text>
<text class="tl m" transform="translate(1170.6,888.5) rotate(-90)">V1(km/s)</text>
<text class="tl" x="1260.5" y="1092.5"><tspan class="mi" font-size="18">λ</tspan><tspan font-size="11" dy="4">1</tspan><tspan dy="-4">/</tspan><tspan class="mi" font-size="18">λ</tspan><tspan font-size="11" dy="4">3</tspan><tspan dy="-4"> ≈ 92.22</tspan></text>

<!-- ================= Magnetic Field RTN ================= -->
<text class="ti" x="899.7" y="1294">Magnetic Field (RTN Frame)</text>
<g clip-path="url(#cTS)">
<g transform="translate(116.7,1526.8) scale(71.1818,-1.38938) translate(0,80)">
<polyline class="ln" stroke="#f00" points="0,9.3 1,17.4 2,9 3,2.9 4,8.4 5,11.6 6,13.8 7,11.3 8,6.4 9,7.1 10,10.6 11,15.1 12,17.4 13,14.2 14,17.4 15,13.8 16,12.6 17,9.3 18,12.9 19,16.7 20,22.9 21,24.1 22,29"/>
<polyline class="ln" stroke="#008000" points="0,-49.9 1,-47.6 2,-33.5 3,-39 4,-38.6 5,-42.2 6,-50.2 7,-50.5 8,-54 9,-58.3 10,-54 11,-52.2 12,-52.2 13,-51.2 14,-55 15,-53.4 16,-57.3 17,-61.8 18,-64.7 19,-64.4 20,-55.4 21,-55.7 22,-59.6"/>
<polyline class="ln" stroke="#00f" points="0,50.2 1,46.7 2,61.2 3,58.9 4,58.6 5,56 6,48.9 7,49.3 8,45.7 9,40.6 10,44.1 11,45.4 12,45.1 13,47.6 14,42.2 15,44.4 16,39.9 17,33.5 18,21.9 19,19.3 20,36.4 21,36 22,26"/>
</g>
</g>
<line x1="116.7" y1="1415.7" x2="1682.7" y2="1415.7" stroke="#000" stroke-width="1.5" stroke-dasharray="13,12"/>
<rect class="fr" x="116.7" y="1304.5" width="1566" height="222.3"/>
<path class="tk" d="M330.2 1526.8v-7M686.1 1526.8v-7M1042 1526.8v-7M1397.9 1526.8v-7M330.2 1304.5v7M686.1 1304.5v7M1042 1304.5v7M1397.9 1304.5v7M116.7 1332.3h7M116.7 1360.1h7M116.7 1387.9h7M116.7 1415.7h7M116.7 1443.4h7M116.7 1471.2h7M116.7 1499h7M1682.7 1332.3h-7M1682.7 1360.1h-7M1682.7 1387.9h-7M1682.7 1415.7h-7M1682.7 1443.4h-7M1682.7 1471.2h-7M1682.7 1499h-7"/>
<g class="tl e">
<text x="107.7" y="1310.4">80</text><text x="107.7" y="1338.2">60</text><text x="107.7" y="1366">40</text><text x="107.7" y="1393.8">20</text><text x="107.7" y="1421.6">0</text><text x="107.7" y="1449.3">&#8722;20</text><text x="107.7" y="1477.1">&#8722;40</text><text x="107.7" y="1504.9">&#8722;60</text><text x="107.7" y="1532.7">&#8722;80</text>
</g>
<g class="tl m">
<text x="330.2" y="1549.7">04/03 08:42:04</text><text x="686.1" y="1549.7">04/03 08:42:09</text><text x="1042" y="1549.7">04/03 08:42:14</text><text x="1397.9" y="1549.7">04/03 08:42:19</text>
</g>
<text class="tl m" transform="translate(59.4,1415.7) rotate(-90)">B(nT)</text>
<rect x="1603.5" y="1311.8" width="72.5" height="72.3" fill="#fff" stroke="#000" stroke-width="2"/>
<line x1="1612.7" y1="1324.5" x2="1635.7" y2="1324.5" stroke="#f00" stroke-width="1.5"/>
<line x1="1612.7" y1="1346.8" x2="1635.7" y2="1346.8" stroke="#008000" stroke-width="1.5"/>
<line x1="1612.7" y1="1369.3" x2="1635.7" y2="1369.3" stroke="#00f" stroke-width="1.5"/>
<text class="ls" x="1651.5" y="1329.5">Br</text><text class="ls" x="1651.5" y="1351.8">Bt</text><text class="ls" x="1651.5" y="1374.3">Bn</text>

<!-- ================= Magnetic Field Flux Rope ================= -->
<text class="ti" x="899.7" y="1627.6">Magnetic Field (Flux Rope Frame)</text>
<g clip-path="url(#cTS)">
<g transform="translate(116.7,1860.4) scale(71.1818,-1.8525) translate(0,40)">
<polyline class="ln" stroke="#f00" points="0,0.5 1,-7.7 2,3.1 3,8.2 4,3.1 5,-0.7 6,-3.9 7,-1.4 8,3.1 9,1.4 10,-1.9 11,-5.5 12,-8 13,-4.1 14,-8.4 15,-4.6 16,-4.1 17,-1.9 18,-7.2 19,-11.6 20,-14.7 21,-15.9 22,-23.1"/>
<polyline class="ln" stroke="#008000" points="0,-5.8 1,-5.5 2,-24.6 3,-18.6 4,-19 5,-15.4 6,-5.1 7,-5.1 8,1 9,7.2 10,1.2 11,-1.2 12,-1.2 13,-3.6 14,2.7 15,0 16,6 17,14.9 18,24.6 19,25.8 20,6.7 21,7 22,17.1"/>
<polyline class="ln" stroke="#00f" points="0,71.3 1,68.7 2,65.8 3,67.5 4,68 5,69.2 6,71.1 7,71.3 8,71 9,71 10,70.6 11,70.6 12,70.8 13,70.8 14,70.6 15,70.8 16,70.4 17,69.2 18,64.8 19,63.4 20,68.2 21,68.4 22,64.8"/>
<polyline class="ln" stroke="#000" points="0,71.5 1,69 2,70.4 3,70.9 4,71 5,71.1 6,71.6 7,71.6 8,71.3 9,71.3 10,71 11,71.1 12,71.2 13,71.4 14,71.4 15,71.1 16,71.1 17,70.9 18,69.9 19,69.4 20,70.3 21,70.8 22,70.9"/>
</g>
</g>
<line x1="116.7" y1="1786.3" x2="1682.7" y2="1786.3" stroke="#000" stroke-width="1.5" stroke-dasharray="13,12"/>
<rect class="fr" x="116.7" y="1638.1" width="1566" height="222.3"/>
<path class="tk" d="M330.2 1860.4v-7M686.1 1860.4v-7M1042 1860.4v-7M1397.9 1860.4v-7M330.2 1638.1v7M686.1 1638.1v7M1042 1638.1v7M1397.9 1638.1v7M116.7 1675.2h7M116.7 1712.2h7M116.7 1749.3h7M116.7 1786.3h7M116.7 1823.4h7M1682.7 1675.2h-7M1682.7 1712.2h-7M1682.7 1749.3h-7M1682.7 1786.3h-7M1682.7 1823.4h-7"/>
<g class="tl e">
<text x="107.7" y="1644">80</text><text x="107.7" y="1681.1">60</text><text x="107.7" y="1718.1">40</text><text x="107.7" y="1755.2">20</text><text x="107.7" y="1792.2">0</text><text x="107.7" y="1829.3">&#8722;20</text><text x="107.7" y="1866.3">&#8722;40</text>
</g>
<g class="tl m">
<text x="330.2" y="1883.3">04/03 08:42:04</text><text x="686.1" y="1883.3">04/03 08:42:09</text><text x="1042" y="1883.3">04/03 08:42:14</text><text x="1397.9" y="1883.3">04/03 08:42:19</text>
</g>
<text class="tl m" transform="translate(58.5,1749.3) rotate(-90)">B(nT)</text>
<rect x="1601.4" y="1645.3" width="74.6" height="94.6" fill="#fff" stroke="#000" stroke-width="2"/>
<line x1="1610.6" y1="1658.7" x2="1634" y2="1658.7" stroke="#f00" stroke-width="1.5"/>
<line x1="1610.6" y1="1681" x2="1634" y2="1681" stroke="#008000" stroke-width="1.5"/>
<line x1="1610.6" y1="1703.3" x2="1634" y2="1703.3" stroke="#00f" stroke-width="1.5"/>
<line x1="1610.6" y1="1725.6" x2="1634" y2="1725.6" stroke="#000" stroke-width="1.5"/>
<text class="ls" x="1649.4" y="1663.7">Bx'</text><text class="ls" x="1649.4" y="1686">By'</text><text class="ls" x="1649.4" y="1708.3">Bz'</text><text class="ls" x="1649.4" y="1730.6">|B|</text>

<!-- ================= Solar Wind Velocity ================= -->
<text class="ti" x="899.7" y="1961.2">Solar Wind Velocity (RTN Frame)</text>
<g clip-path="url(#cTS)">
<g transform="translate(116.7,2194) scale(71.1818,-0.277875) translate(0,200)">
<polyline class="ln" stroke="#f00" points="0,467.7 1,477 2,486 3,511 4,478.6 5,472 6,482 7,486 8,491 9,491 10,477 11,474 12,471 13,468 14,471 15,483 16,477 17,493 18,475 19,466 20,457 21,454 22,448"/>
<polyline class="ln" stroke="#008000" points="0,0 1,-18 2,-36 3,-26 4,-30 5,-19 6,-13 7,-5 8,10 9,15 10,-7 11,-2 12,2 13,1 14,7 15,4 16,15 17,15 18,29 19,13 20,9 21,19 22,24"/>
<polyline class="ln" stroke="#00f" points="0,-80 1,-99 2,-116 3,-99 4,-108 5,-105 6,-97 7,-79 8,-61 9,-52 10,-86 11,-82 12,-83 13,-80 14,-66 15,-72 16,-63 17,-46 18,-43 19,-52 20,-69 21,-43 22,-49"/>
</g>
</g>
<rect class="fr" x="116.7" y="1971.7" width="1566" height="222.3"/>
<path class="tk" d="M330.2 2194v-7M686.1 2194v-7M1042 2194v-7M1397.9 2194v-7M330.2 1971.7v7M686.1 1971.7v7M1042 1971.7v7M1397.9 1971.7v7M116.7 1999.5h7M116.7 2027.3h7M116.7 2055.1h7M116.7 2082.9h7M116.7 2110.6h7M116.7 2138.4h7M116.7 2166.2h7M1682.7 1999.5h-7M1682.7 2027.3h-7M1682.7 2055.1h-7M1682.7 2082.9h-7M1682.7 2110.6h-7M1682.7 2138.4h-7M1682.7 2166.2h-7"/>
<g class="tl e">
<text x="107.7" y="1977.6">600</text><text x="107.7" y="2005.4">500</text><text x="107.7" y="2033.2">400</text><text x="107.7" y="2061">300</text><text x="107.7" y="2088.8">200</text><text x="107.7" y="2116.5">100</text><text x="107.7" y="2144.3">0</text><text x="107.7" y="2172.1">&#8722;100</text><text x="107.7" y="2199.9">&#8722;200</text>
</g>
<g class="tl m">
<text x="330.2" y="2216.9">04/03 08:42:04</text><text x="686.1" y="2216.9">04/03 08:42:09</text><text x="1042" y="2216.9">04/03 08:42:14</text><text x="1397.9" y="2216.9">04/03 08:42:19</text>
</g>
<text class="tl m" transform="translate(45.6,2082.9) rotate(-90)">Vsw(km/s)</text>
<rect x="1603.5" y="1978.6" width="72.5" height="72.4" fill="#fff" stroke="#000" stroke-width="2"/>
<line x1="1612.7" y1="1991.6" x2="1635.7" y2="1991.6" stroke="#f00" stroke-width="1.5"/>
<line x1="1612.7" y1="2013.7" x2="1635.7" y2="2013.7" stroke="#008000" stroke-width="1.5"/>
<line x1="1612.7" y1="2035.9" x2="1635.7" y2="2035.9" stroke="#00f" stroke-width="1.5"/>
<text class="ls" x="1651.5" y="1996.6">Vr</text><text class="ls" x="1651.5" y="2018.7">Vt</text><text class="ls" x="1651.5" y="2040.9">Vn</text>

<!-- ================= Plasma Beta ================= -->
<text class="ti" x="899.7" y="2294.8">Plasma Beta</text>
<g clip-path="url(#cTS)">
<g transform="translate(116.7,2527.6) scale(71.1818,-1852.5) translate(0,-0.1)">
<polyline class="l15" stroke="#00f" points="0,0.1105 1,0.1427 2,0.1616 3,0.1277 4,0.1562 5,0.1457 6,0.126 7,0.1551 8,0.1431 9,0.1656 10,0.1352 11,0.1626 12,0.153 13,0.159 14,0.1703 15,0.1459 16,0.1335 17,0.1502 18,0.2026 19,0.176 20,0.1492 21,0.1021 22,0.1166"/>
</g>
</g>
<rect class="fr" x="116.7" y="2305.3" width="1566" height="222.3"/>
<path class="tk" d="M330.2 2527.6v-7M686.1 2527.6v-7M1042 2527.6v-7M1397.9 2527.6v-7M330.2 2305.3v7M686.1 2305.3v7M1042 2305.3v7M1397.9 2305.3v7M116.7 2342.4h7M116.7 2379.4h7M116.7 2416.5h7M116.7 2453.5h7M116.7 2490.6h7M1682.7 2342.4h-7M1682.7 2379.4h-7M1682.7 2416.5h-7M1682.7 2453.5h-7M1682.7 2490.6h-7"/>
<g class="tl e">
<text x="107.7" y="2311.2">0.22</text><text x="107.7" y="2348.3">0.20</text><text x="107.7" y="2385.3">0.18</text><text x="107.7" y="2422.4">0.16</text><text x="107.7" y="2459.4">0.14</text><text x="107.7" y="2496.5">0.12</text><text x="107.7" y="2533.5">0.10</text>
</g>
<g class="tl m">
<text x="330.2" y="2550.5">04/03 08:42:04</text><text x="686.1" y="2550.5">04/03 08:42:09</text><text x="1042" y="2550.5">04/03 08:42:14</text><text x="1397.9" y="2550.5">04/03 08:42:19</text>
</g>
<text class="tl m" transform="translate(53.6,2416.5) rotate(-90)"><tspan class="mi">β</tspan><tspan class="mi" font-size="11" dy="3">p</tspan></text>

<!-- ================= Proton Number Density ================= -->
<text class="ti" x="899.7" y="2628.4">Proton Number Density</text>
<g clip-path="url(#cTS)">
<g transform="translate(116.7,2861.2) scale(71.1818,-12.35) translate(0,-56)">
<polyline class="l15" stroke="#00f" points="0,59.09 1,62.05 2,65.04 3,58.78 4,64.51 5,64.47 6,60.71 7,62.58 8,61.98 9,64.79 10,63.95 11,66.37 12,64.97 13,66.9 14,69.92 15,64.58 16,63.17 17,63.42 18,72.03 19,69.47 20,66.86 21,57.83 22,62.82"/>
</g>
</g>
<rect class="fr" x="116.7" y="2638.9" width="1566" height="222.3"/>
<path class="tk" d="M330.2 2861.2v-7M686.1 2861.2v-7M1042 2861.2v-7M1397.9 2861.2v-7M330.2 2638.9v7M686.1 2638.9v7M1042 2638.9v7M1397.9 2638.9v7M116.7 2663.6h7M116.7 2688.3h7M116.7 2713h7M116.7 2737.7h7M116.7 2762.4h7M116.7 2787.1h7M116.7 2811.8h7M116.7 2836.5h7M1682.7 2663.6h-7M1682.7 2688.3h-7M1682.7 2713h-7M1682.7 2737.7h-7M1682.7 2762.4h-7M1682.7 2787.1h-7M1682.7 2811.8h-7M1682.7 2836.5h-7"/>
<g class="tl e">
<text x="107.7" y="2644.8">74</text><text x="107.7" y="2669.5">72</text><text x="107.7" y="2694.2">70</text><text x="107.7" y="2718.9">68</text><text x="107.7" y="2743.6">66</text><text x="107.7" y="2768.3">64</text><text x="107.7" y="2793">62</text><text x="107.7" y="2817.7">60</text><text x="107.7" y="2842.4">58</text><text x="107.7" y="2867.1">56</text>
</g>
<g class="tl m">
<text x="330.2" y="2884.1">04/03 08:42:04</text><text x="686.1" y="2884.1">04/03 08:42:09</text><text x="1042" y="2884.1">04/03 08:42:14</text><text x="1397.9" y="2884.1">04/03 08:42:19</text>
</g>
<text class="tl m" transform="translate(72,2750) rotate(-90)">Np(#/cc)</text>

<!-- ================= Proton Temperature ================= -->
<text class="ti" x="899.7" y="2962">Proton Temperature and <tspan class="mi">T</tspan><tspan class="mi" font-size="14" dy="5">e</tspan><tspan class="mi" dy="-5">/T</tspan><tspan class="mi" font-size="14" dy="5">p</tspan></text>
<g clip-path="url(#cTS)">
<g transform="translate(116.7,3194.8) scale(71.1818,-1389.4) translate(0,-0.24)">
<polyline class="l15" stroke="#00f" points="0,0.2743 1,0.3136 2,0.3526 3,0.3114 4,0.347 5,0.3252 6,0.3036 7,0.3632 8,0.3351 9,0.3729 10,0.3027 11,0.3532 12,0.3417 13,0.3476 14,0.357 15,0.3273 16,0.3049 17,0.3386 18,0.3913 19,0.347 20,0.3152 21,0.2534 22,0.2681"/>
</g>
</g>
<rect class="fr" x="116.7" y="2972.5" width="1566" height="222.3"/>
<path class="tk" d="M330.2 3194.8v-7M686.1 3194.8v-7M1042 3194.8v-7M1397.9 3194.8v-7M330.2 2972.5v7M686.1 2972.5v7M1042 2972.5v7M1397.9 2972.5v7M116.7 3000.3h7M116.7 3028.1h7M116.7 3055.9h7M116.7 3083.7h7M116.7 3111.5h7M116.7 3139.2h7M116.7 3167h7M1682.7 3000.3h-7M1682.7 3028.1h-7M1682.7 3055.9h-7M1682.7 3083.7h-7M1682.7 3111.5h-7M1682.7 3139.2h-7M1682.7 3167h-7"/>
<g class="tl e">
<text x="107.7" y="2978.4">0.40</text><text x="107.7" y="3006.2">0.38</text><text x="107.7" y="3034">0.36</text><text x="107.7" y="3061.8">0.34</text><text x="107.7" y="3089.6">0.32</text><text x="107.7" y="3117.4">0.30</text><text x="107.7" y="3145.1">0.28</text><text x="107.7" y="3172.9">0.26</text><text x="107.7" y="3200.7">0.24</text>
</g>
<g class="tl m">
<text x="330.2" y="3217.7">04/03 08:42:04</text><text x="686.1" y="3217.7">04/03 08:42:09</text><text x="1042" y="3217.7">04/03 08:42:14</text><text x="1397.9" y="3217.7">04/03 08:42:19</text>
</g>
<text class="tl m" transform="translate(51.3,3083.7) rotate(-90)">Tp(10<tspan font-size="11" dy="-6">6</tspan><tspan dy="6">K)</tspan></text>
<rect x="124" y="2979.5" width="71.2" height="27.8" fill="#fff" stroke="#000" stroke-width="2"/>
<line x1="135.5" y1="2993.4" x2="156.1" y2="2993.4" stroke="#00f" stroke-width="1.5"/>
<text class="ls" x="169" y="2998.4">Tp</text>
</svg>
</body></html>
